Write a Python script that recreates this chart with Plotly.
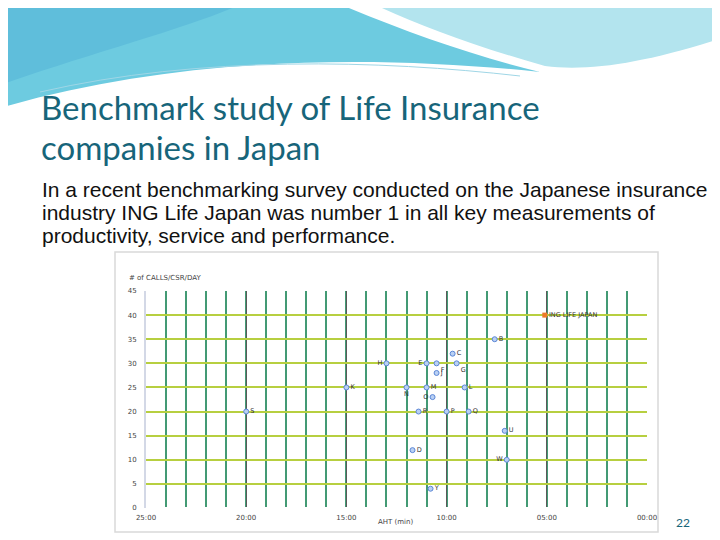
import plotly.graph_objects as go

# ---- data ----
labels = ["ING LIFE JAPAN", "B", "C", "E", "F", "G", "H", "J", "K", "L", "M",
          "N", "O", "P", "Q", "R", "S", "U", "D", "W", "Y"]
aht_min = [5.1, 7.6, 9.7, 11.0, 10.5, 9.5, 13.0, 10.5, 15.0, 9.1, 11.0,
           12.0, 10.7, 10.0, 8.9, 11.4, 20.0, 7.1, 11.7, 7.0, 10.8]
calls_per_day = [40, 35, 32, 30, 30, 30, 30, 28, 25, 25, 25,
                 25, 23, 20, 20, 20, 20, 16, 12, 10, 4]
x_tick_vals = [25, 20, 15, 10, 5, 0]
x_tick_text = ["25:00", "20:00", "15:00", "10:00", "05:00", "00:00"]
y_tick_vals = [0, 5, 10, 15, 20, 25, 30, 35, 40, 45]

# label placement (style)
label_pos = {"E": "middle left", "H": "middle left", "O": "middle left",
             "W": "middle left", "F": "bottom right", "G": "bottom right",
             "N": "bottom center"}

W, H = 720, 540
OFF = 8  # page body margin
def px(x): return (x - OFF) / W
def py(y): return 1 - (y - OFF) / H
def path(pts):
    s = ""
    for i, p in enumerate(pts):
        if p == "Z":
            s += " Z"
        elif p[0] == "C":
            s += " C%.4f,%.4f %.4f,%.4f %.4f,%.4f" % (px(p[1]), py(p[2]), px(p[3]), py(p[4]), px(p[5]), py(p[6]))
        else:
            s += ("M" if i == 0 else " L") + "%.4f,%.4f" % (px(p[0]), py(p[1]))
    return s

fig = go.Figure()

others = list(range(1, len(labels)))
fig.add_trace(go.Scatter(
    x=[aht_min[i] for i in others], y=[calls_per_day[i] for i in others],
    mode="markers+text", text=[labels[i] for i in others],
    textposition=[label_pos.get(labels[i], "middle right") for i in others],
    textfont=dict(family="DejaVu Sans", size=6.5, color="#333333"),
    marker=dict(symbol="circle", size=5, color="#b9d0f3",
                line=dict(color="#5b86d6", width=1)),
    cliponaxis=False, showlegend=False))
fig.add_trace(go.Scatter(
    x=[aht_min[0]], y=[calls_per_day[0]], mode="markers+text",
    text=[labels[0]], textposition="middle right",
    textfont=dict(family="DejaVu Sans", size=6.5, color="#333333"),
    marker=dict(symbol="square", size=5, color="#ee7a2a"),
    cliponaxis=False, showlegend=False))

x0, x1, y0, y1 = 146, 647, 291, 508
fig.update_layout(
    width=W, height=H, margin=dict(l=0, r=0, t=0, b=0, autoexpand=False),
    paper_bgcolor="white", plot_bgcolor="white",
    xaxis=dict(domain=[px(x0), px(x1)], range=[25, 0], tickvals=x_tick_vals,
               ticktext=x_tick_text, showgrid=True, gridcolor="#5a5a5a",
               gridwidth=1.2, zeroline=False, showline=False, ticks="",
               ticklabelstandoff=4,
               tickfont=dict(family="DejaVu Sans", size=7, color="#444444"),
               minor=dict(dtick=1, showgrid=True, gridcolor="#439a74", gridwidth=1.6)),
    yaxis=dict(domain=[py(y1), py(y0)], range=[0, 45], tickvals=y_tick_vals,
               showgrid=True, gridcolor="#b7cf40", gridwidth=1.5,
               zeroline=True, zerolinecolor="white", zerolinewidth=2,
               showline=True, linecolor="#d3d8e6", linewidth=2, ticks="",
               ticklabelstandoff=6,
               tickfont=dict(family="DejaVu Sans", size=7, color="#444444")),
)

shapes = []
# header waves
shapes.append(dict(type="path", xref="paper", yref="paper", layer="below",
    path=path([(0, 0), (330, 0), ("C", 400, 30, 470, 55, 540, 72),
               ("C", 380, 55, 180, 55, 0, 108), "Z"]),
    fillcolor="#6dcbe0", line=dict(width=0)))
shapes.append(dict(type="path", xref="paper", yref="paper", layer="below",
    path=path([(0, 0), (250, 0), ("C", 200, 25, 100, 50, 0, 85), "Z"]),
    fillcolor="#5fbedb", line=dict(width=0)))
shapes.append(dict(type="path", xref="paper", yref="paper", layer="below",
    path=path([(365, 0), (728, 0), (728, 36), ("C", 650, 62, 590, 72, 545, 66),
               ("C", 470, 45, 410, 22, 365, 0), "Z"]),
    fillcolor="#b3e4ee", line=dict(width=0)))
shapes.append(dict(type="path", xref="paper", yref="paper", layer="below",
    path=path([(40, 92), ("C", 200, 55, 380, 60, 520, 76)]),
    line=dict(color="#9fd6e6", width=1)))
# chart frame
shapes.append(dict(type="rect", xref="paper", yref="paper", layer="below",
    x0=px(115), x1=px(658), y0=py(532), y1=py(252),
    line=dict(color="#d9d9d9", width=1.5), fillcolor="white"))
fig.update_layout(shapes=shapes)

ann = []
def add_text(text, x, y, size, color, family, xanchor="left"):
    ann.append(dict(text=text, x=px(x), y=py(y), xref="paper", yref="paper",
                    xanchor=xanchor, yanchor="middle", showarrow=False,
                    font=dict(family=family, size=size, color=color)))

add_text("Benchmark study of Life Insurance", 39, 107, 33, "#17657a", "Lato")
add_text("companies in Japan", 39, 147, 33, "#17657a", "Lato")
body = ["In a recent benchmarking survey conducted on the Japanese insurance",
        "industry ING Life Japan was number 1 in all key measurements of",
        "productivity, service and performance."]
for i, line in enumerate(body):
    add_text(line, 40, 189 + 23 * i, 21, "#111111", "Liberation Sans")
add_text("# of CALLS/CSR/DAY", 127, 278, 7, "#444444", "DejaVu Sans")
add_text("AHT (min)", 395, 522, 7, "#444444", "DejaVu Sans", "center")
add_text("22", 683, 522, 12, "#17657a", "Lato", "center")
fig.update_layout(annotations=ann)

fig.write_html("out.html")
